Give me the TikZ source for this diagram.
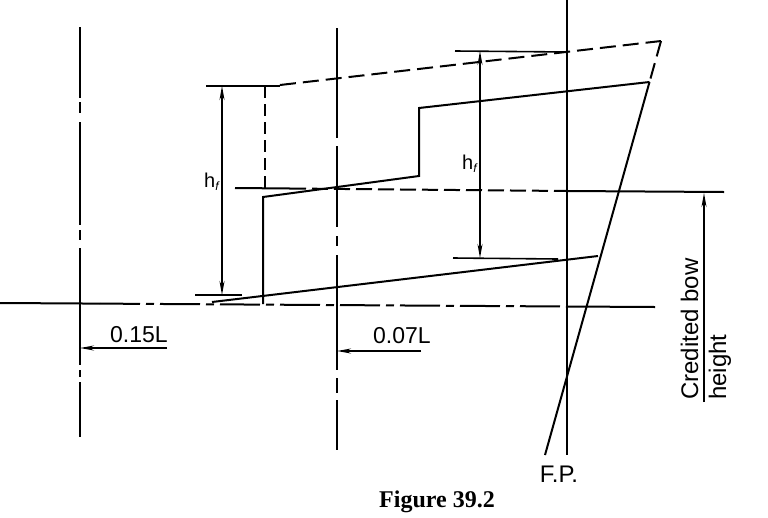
\documentclass[tikz,border=0pt]{standalone}
\usepackage{fontspec}
\setmainfont{Liberation Sans}
\newfontfamily\capfont{Liberation Serif}
\usetikzlibrary{arrows.meta}
\begin{document}
\begin{tikzpicture}[x=1pt,y=-1pt,
  ln/.style={line width=2pt},
  dim/.style={line width=1.6pt},
  dsh/.style={line width=2pt,dash pattern=on 16pt off 7pt},
  vdsh/.style={line width=1.7pt,dash pattern=on 12pt off 6pt},
  tip/.style={-{Stealth[length=14pt,width=5pt]}},
  tips/.style={{Stealth[length=14pt,width=5pt]}-{Stealth[length=14pt,width=5pt]}},
  lbl/.style={inner sep=0pt,font=\fontsize{23}{26}\selectfont},
  hlbl/.style={inner sep=0pt,font=\fontsize{20}{22}\selectfont}
]
\useasboundingbox (0,0) rectangle (768,517);

% named points
\coordinate (v1t) at (80,27);   \coordinate (v1b) at (80,437);
\coordinate (v2t) at (337,28);  \coordinate (v2b) at (337,450);
\coordinate (v3t) at (567,0);   \coordinate (v3b) at (567,455);
\coordinate (b0) at (0,303);    \coordinate (b1) at (100,303.6);
\coordinate (b2) at (567,306.5);\coordinate (b3) at (655,307);
\coordinate (st) at (661,41);   \coordinate (sm) at (649.5,82);
\coordinate (sb) at (545,455);
\coordinate (ud0) at (280,85);
\coordinate (tk1a) at (206,86); \coordinate (tk1b) at (280,86);
\coordinate (vd0) at (265,86);  \coordinate (vd1) at (265,188);
\coordinate (m0) at (235,188);  \coordinate (m1) at (290,188.5);
\coordinate (m2) at (567,191);  \coordinate (m3) at (724,192);
\coordinate (s0) at (263,304);  \coordinate (s1) at (263,197);
\coordinate (s2) at (419,176);  \coordinate (s3) at (419,108);
\coordinate (l0) at (212,302);  \coordinate (l1) at (598,256);
\coordinate (a1t) at (222,86);  \coordinate (a1b) at (222,295);
\coordinate (tk2a) at (195,295);\coordinate (tk2b) at (242,295);
\coordinate (a2t) at (480,51);  \coordinate (a2b) at (480,258);
\coordinate (tk3a) at (455,51); \coordinate (tk3b) at (568,52);
\coordinate (tk4a) at (453,258);\coordinate (tk4b) at (558,259);
\coordinate (cbt) at (704,193); \coordinate (cbb) at (704,402);
\coordinate (d1a) at (167,348); \coordinate (d1b) at (80,348);
\coordinate (d2a) at (421,351); \coordinate (d2b) at (337,351);

% vertical reference lines (centre lines)
\draw[ln,dash pattern=on 71pt off 4pt on 11pt off 9pt on 103pt off 5pt on 10pt off 8pt on 117pt off 5pt on 7pt off 5pt on 60pt off 200pt] (v1t) -- (v1b);
\draw[ln,dash pattern=on 110pt off 8pt on 81pt off 9pt on 10pt off 9pt on 115pt off 8pt on 15pt off 7pt on 50pt off 200pt] (v2t) -- (v2b);
\draw[ln] (v3t) -- (v3b);

% base line
\draw[ln] (b0) -- (b1);
\draw[ln,dash pattern=on 40pt off 6pt on 8pt off 6pt] (b1) -- (b2);
\draw[ln] (b2) -- (b3);

% stem
\draw[dsh] (st) -- (sm);
\draw[ln] (sm) -- (sb);

% upper dashed freeboard line
\draw[dim] (tk1a) -- (tk1b);
\draw[dsh] (ud0) -- (st);
\draw[vdsh] (vd0) -- (vd1);

% line at credited bow height
\draw[ln] (m0) -- (m1);
\draw[ln,dash pattern=on 16pt off 6pt] (m1) -- (m2);
\draw[ln] (m2) -- (m3);

% stepped deck line
\draw[ln] (s0) -- (s1) -- (s2) -- (s3) -- (sm);

% lower sheer line
\draw[ln] (l0) -- (l1);

% h_f dimensions
\draw[dim,tips] (a1b) -- (a1t);
\draw[dim] (tk2a) -- (tk2b);
\draw[dim,tips] (a2b) -- (a2t);
\draw[dim] (tk3a) -- (tk3b);
\draw[dim] (tk4a) -- (tk4b);
\node[hlbl,anchor=base west] (hf1) at (204,187) {h\raisebox{-3pt}{\fontsize{12}{12}\selectfont\itshape f}};
\node[hlbl,anchor=base west] (hf2) at (462,169) {h\raisebox{-3pt}{\fontsize{12}{12}\selectfont\itshape f}};

% credited bow height
\draw[dim,tip] (cbb) -- (cbt);
\node[lbl,font=\fontsize{24}{26}\selectfont,rotate=90,anchor=base west] (cb1) at (698,400) {Credited bow};
\node[lbl,font=\fontsize{24}{26}\selectfont,rotate=90,anchor=base west] (cb2) at (726,400) {height};

% 0.15L and 0.07L
\draw[dim,tip] (d1a) -- (d1b);
\node[lbl,anchor=base west] (t15) at (110,342) {0.15L};
\draw[dim,tip] (d2a) -- (d2b);
\node[lbl,anchor=base west] (t07) at (373,343) {0.07L};

% F.P.
\node[lbl,font=\fontsize{24}{26}\selectfont,anchor=base] (fp) at (559,482) {F.P.};

% caption
\node[inner sep=0pt,anchor=base,font=\capfont\bfseries\fontsize{24}{26}\selectfont] (cap) at (437,507) {Figure 39.2};
\end{tikzpicture}
\end{document}
